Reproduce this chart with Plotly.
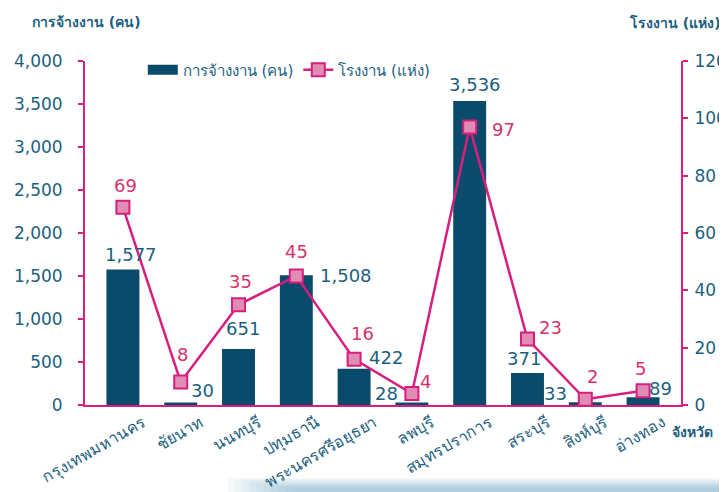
import plotly.graph_objects as go

provinces = ["กรุงเทพมหานคร", "ชัยนาท", "นนทบุรี", "ปทุมธานี", "พระนครศรีอยุธยา",
             "ลพบุรี", "สมุทรปราการ", "สระบุรี", "สิงห์บุรี", "อ่างทอง"]
employment = [1577, 30, 651, 1508, 422, 28, 3536, 371, 33, 89]
factories = [69, 8, 35, 45, 16, 4, 97, 23, 2, 5]

left_ticks = [0, 500, 1000, 1500, 2000, 2500, 3000, 3500, 4000]
right_ticks = [0, 20, 40, 60, 80, 100, 120]

# label placement (xanchor, xshift, yanchor, yshift) for each category
bar_label_pos = [("center", 8, "bottom", 2), ("left", 8, "middle", 12), ("center", 4, "bottom", 8),
                 ("left", 22, "middle", 0), ("left", 13, "middle", 11), ("right", -12, "middle", 9),
                 ("center", 5, "bottom", 4), ("center", -3, "bottom", 2), ("right", -16, "middle", 9),
                 ("left", 4, "middle", 9)]
line_label_pos = [("center", 3, "bottom", 9), ("center", 2, "bottom", 15), ("center", 2, "bottom", 11),
                  ("center", 0, "bottom", 12), ("center", 8, "bottom", 13), ("left", 6, "middle", 12),
                  ("left", 20, "middle", -3), ("left", 10, "middle", 12), ("center", 7, "bottom", 10),
                  ("center", -3, "bottom", 10)]

BAR = "#0a4a6b"
MAG = "#d61f7f"
TEAL = "#1d5f80"
LBL = "#d6336c"
FONT = "DejaVu Sans"

fig = go.Figure()
fig.add_trace(go.Bar(x=provinces, y=employment, name="การจ้างงาน (คน)", showlegend=False,
                     marker=dict(color=BAR, line=dict(width=0)), width=0.57))
# legend entry drawn as a wide bar swatch
fig.add_trace(go.Scatter(x=[None], y=[None], mode="lines", name="การจ้างงาน (คน)",
                         line=dict(color=BAR, width=10), hoverinfo="skip"))
fig.add_trace(go.Scatter(x=provinces, y=factories, name="โรงงาน (แห่ง)", yaxis="y2",
                         mode="lines+markers",
                         line=dict(color=MAG, width=2.5),
                         marker=dict(symbol="square", size=13, color="#e08cb5",
                                     line=dict(color=MAG, width=2))))

ann = []
for p, v, (xa, xs, ya, ys) in zip(provinces, employment, bar_label_pos):
    ann.append(dict(x=p, y=v, xref="x", yref="y", text=f"{v:,}", showarrow=False,
                    xanchor=xa, yanchor=ya, xshift=xs, yshift=ys,
                    font=dict(family=FONT, size=18, color=TEAL)))
for p, v, (xa, xs, ya, ys) in zip(provinces, factories, line_label_pos):
    ann.append(dict(x=p, y=v, xref="x", yref="y2", text=str(v), showarrow=False,
                    xanchor=xa, yanchor=ya, xshift=xs, yshift=ys,
                    font=dict(family=FONT, size=18, color=LBL)))
ann.append(dict(x=-0.092, y=1.113, xref="paper", yref="paper", text="<b>การจ้างงาน (คน)</b>",
                showarrow=False, xanchor="left", yanchor="middle",
                font=dict(family=FONT, size=14, color=TEAL)))
ann.append(dict(x=1.07, y=1.113, xref="paper", yref="paper", text="<b>โรงงาน (แห่ง)</b>",
                showarrow=False, xanchor="right", yanchor="middle",
                font=dict(family=FONT, size=14, color=TEAL)))
ann.append(dict(x=1.057, y=-0.078, xref="paper", yref="paper", text="<b>จังหวัด</b>",
                showarrow=False, xanchor="right", yanchor="middle",
                font=dict(family=FONT, size=14, color=TEAL)))

# soft blue band at the bottom edge (decoration), built from thin translucent layers
shapes = []
n_layers = 10
for i in range(n_layers):
    shapes.append(dict(type="rect", xref="paper", yref="paper",
                       x0=0.24 + 0.012 * i, x1=1.08,
                       y0=-0.27, y1=-0.212 - 0.0035 * i, line=dict(width=0),
                       fillcolor="#5a94b3", opacity=0.06, layer="below"))

fig.update_layout(
    width=719, height=484,
    margin=dict(l=77, r=46, t=53, b=87, autoexpand=False),
    paper_bgcolor="white", plot_bgcolor="white",
    bargap=0.43,
    showlegend=True,
    legend=dict(orientation="h", x=0.097, y=0.974, xanchor="left", yanchor="middle",
                font=dict(family=FONT, size=15, color=TEAL), bgcolor="rgba(0,0,0,0)",
                traceorder="normal"),
    xaxis=dict(showline=True, linecolor=MAG, linewidth=2, ticks="", tickangle=-30,
               tickfont=dict(family=FONT, size=16, color=TEAL), showgrid=False,
               automargin=False, ticklabelshift=20),
    yaxis=dict(range=[0, 4000], tickvals=left_ticks, tickformat=",", showgrid=False,
               showline=True, linecolor=MAG, linewidth=2, ticks="outside", tickcolor=MAG,
               ticklen=5, tickwidth=2, ticklabelstandoff=12, automargin=False,
               tickfont=dict(family=FONT, size=17, color=TEAL), zeroline=False),
    yaxis2=dict(range=[0, 120], tickvals=right_ticks, overlaying="y", side="right",
                showgrid=False, showline=True, linecolor=MAG, linewidth=2,
                ticks="outside", tickcolor=MAG, ticklen=5, tickwidth=2, automargin=False,
                ticklabelstandoff=3,
                tickfont=dict(family=FONT, size=17, color=TEAL), zeroline=False),
    annotations=ann,
    shapes=shapes,
)

fig.write_html("out.html")
